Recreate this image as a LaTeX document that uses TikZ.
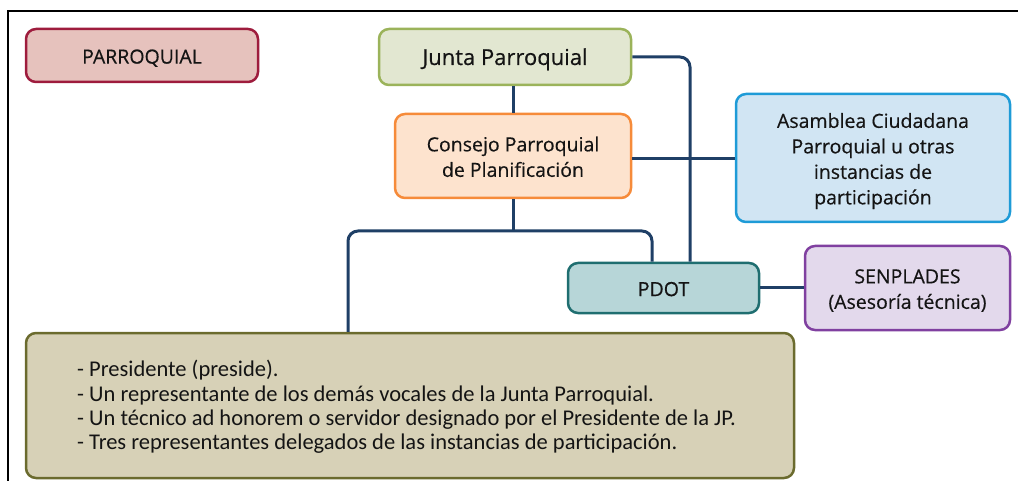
\documentclass[tikz,border=0pt]{standalone}
\usepackage{fontspec}
\setmainfont{Open Sans}[FakeBold=0.4]
\newfontfamily\listfont{Carlito}
\usetikzlibrary{calc}
\definecolor{linec}{HTML}{1F3F66}
\definecolor{parfill}{HTML}{E6C2BD}
\definecolor{pardraw}{HTML}{9E1C3D}
\definecolor{jfill}{HTML}{E2E7D1}
\definecolor{jdraw}{HTML}{9BB35A}
\definecolor{cfill}{HTML}{FDE3CE}
\definecolor{cdraw}{HTML}{F68B3A}
\definecolor{afill}{HTML}{D1E5F3}
\definecolor{adraw}{HTML}{1E9BD7}
\definecolor{pfill}{HTML}{B7D6D8}
\definecolor{pdraw}{HTML}{1F6E70}
\definecolor{sfill}{HTML}{E3D9EC}
\definecolor{sdraw}{HTML}{8040A0}
\definecolor{bfill}{HTML}{D7D1B7}
\definecolor{bdraw}{HTML}{6B6B2E}
\definecolor{txt}{HTML}{141414}
\newcommand\boxtext[1]{\raisebox{-3pt}[\height][\depth]{\begin{tabular}{@{}c@{}}#1\end{tabular}}}
\tikzset{
  box/.style={rectangle, rounded corners=10pt, line width=2.5pt,
    inner sep=0pt, text=txt, font=\fontsize{19.5}{25.5}\selectfont},
  conn/.style={draw=linec, line width=3pt, rounded corners=10pt},
}
\begin{document}
\begin{tikzpicture}[x=1pt,y=-1pt]
\useasboundingbox (0,0) rectangle (1018,481);
\draw[line width=2pt] (8,481) -- (8,11) -- (1018,11);
\node[box, fill=parfill, draw=pardraw, minimum width=232pt, minimum height=53pt] (PQ) at (142,55.5) {\boxtext{PARROQUIAL}};
\node[box, fill=jfill, draw=jdraw, minimum width=252pt, minimum height=56pt, font=\fontsize{22}{25}\selectfont] (J) at (505,57) {\boxtext{Junta Parroquial}};
\node[box, fill=cfill, draw=cdraw, minimum width=236pt, minimum height=84pt] (C) at (513,156) {\boxtext{Consejo Parroquial\\de Planificación}};
\node[box, fill=afill, draw=adraw, minimum width=274pt, minimum height=128pt] (A) at (873,158) {\boxtext{Asamblea Ciudadana\\Parroquial u otras\\instancias de\\participación}};
\node[box, fill=pfill, draw=pdraw, minimum width=191pt, minimum height=50pt] (P) at (663.5,288) {\boxtext{PDOT}};
\node[box, fill=sfill, draw=sdraw, minimum width=205pt, minimum height=84pt] (S) at (907.5,288) {\boxtext{SENPLADES\\(Asesoría técnica)}};
\node[box, fill=bfill, draw=bdraw, minimum width=768pt, minimum height=145pt] (B) at (410,405.5) {};
\node[anchor=west, align=left, inner sep=0pt, text=txt, font=\listfont\fontsize{22.5}{24.3}\selectfont] (BT) at (77,407)
  {- Presidente (preside).\\- Un representante de los demás vocales de la Junta Parroquial.\\- Un técnico ad honorem o servidor designado por el Presidente de la JP.\\- Tres representantes delegados de las instancias de participación.};
\coordinate (split) at (513,231);
\draw[conn] (C.south) -- (split);
\draw[conn] ([xshift=-62pt]B.north) |- (split) -| ([xshift=-11.5pt]P.north);
\draw[conn] (C.north) -- (C.north |- J.south);
\draw[conn] (J.east) -| ([xshift=26.5pt]P.north);
\draw[conn] (C.east |- 0,159) -- (A.west |- 0,159);
\draw[conn] (P.east) -- (S.west);
\end{tikzpicture}
\end{document}
